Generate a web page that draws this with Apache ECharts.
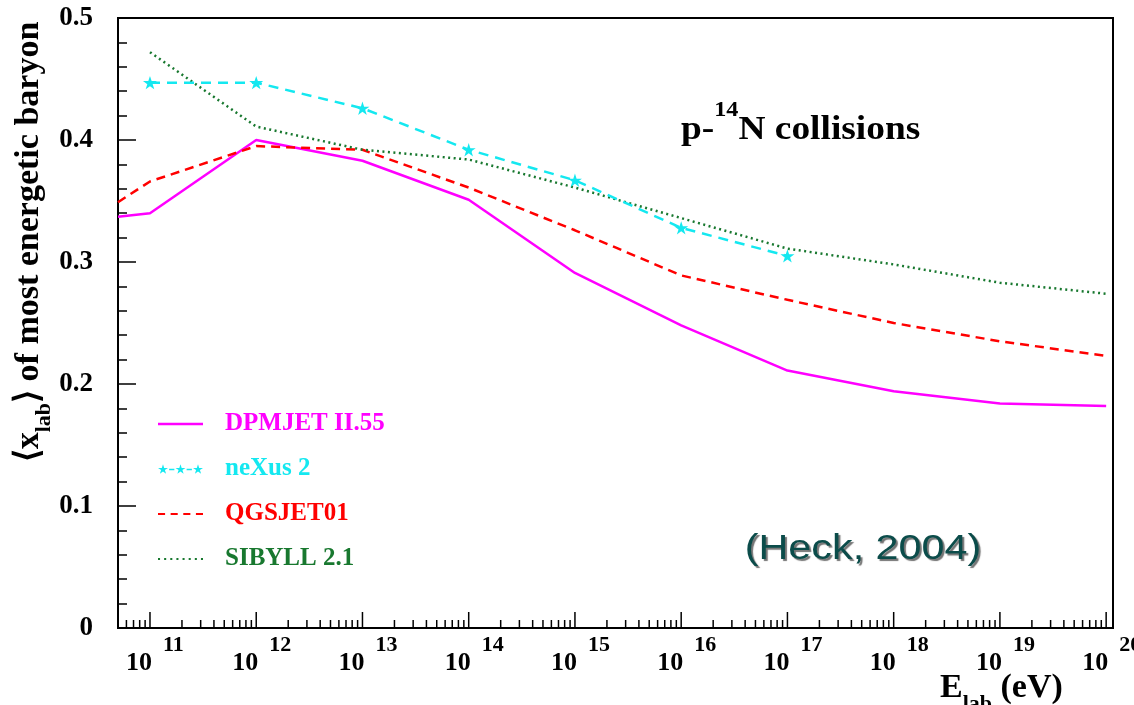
<!DOCTYPE html>
<html>
<head>
<meta charset="utf-8">
<title>Most energetic baryon in p-14N collisions</title>
<script src="https://cdn.jsdelivr.net/npm/echarts@6/dist/echarts.min.js"></script>
<style>
  html, body { margin: 0; padding: 0; background: #ffffff; }
  #chart { width: 1134px; height: 705px; }
</style>
</head>
<body>
<div id="chart"></div>
<script>
// Lab energy (eV) of each simulation point and mean x_lab of the leading baryon
const dpmjetE = [5e10, 1e11, 1e12, 1e13, 1e14, 1e15, 1e16, 1e17, 1e18, 1e19, 1e20];
const dpmjetXlab = [0.337, 0.340, 0.400, 0.383, 0.351, 0.291, 0.248, 0.211, 0.194, 0.184, 0.182];

const nexusE = [1e11, 1e12, 1e13, 1e14, 1e15, 1e16, 1e17];
const nexusXlab = [0.447, 0.447, 0.426, 0.392, 0.367, 0.328, 0.305];

const qgsjetE = [5e10, 1e11, 1e12, 1e13, 1e14, 1e15, 1e16, 1e17, 1e18, 1e19, 1e20];
const qgsjetXlab = [0.349, 0.366, 0.395, 0.392, 0.361, 0.326, 0.289, 0.269, 0.250, 0.235, 0.223];

const sibyllE = [1e11, 1e12, 1e13, 1e14, 1e15, 1e16, 1e17, 1e18, 1e19, 1e20];
const sibyllXlab = [0.472, 0.411, 0.392, 0.384, 0.361, 0.336, 0.311, 0.298, 0.283, 0.274];

// Axis ticks
const tickExponents = [11, 12, 13, 14, 15, 16, 17, 18, 19, 20];
const minorMultipliers = [2, 3, 4, 5, 6, 7, 8, 9];
const yTickLabels = ['0', '0.1', '0.2', '0.3', '0.4', '0.5'];

const X_MIN = 5e10;
const X_MAX = 1.16e20;

const SERIF = '"Liberation Serif", "Times New Roman", serif';
const SANS = '"Liberation Sans", Arial, sans-serif';
const MAGENTA = '#ff00ff';
const CYAN = '#14e8f0';
const RED = '#ff0000';
const GREEN = '#18782f';

// five-pointed star outline centred on (cx, cy)
function starPath(cx, cy, R) {
  const r = R * 0.382;
  let d = '';
  for (let i = 0; i < 10; i++) {
    const rad = (i % 2 === 0) ? R : r;
    const a = -Math.PI / 2 + i * Math.PI / 5;
    const px = (cx + rad * Math.cos(a)).toFixed(2);
    const py = (cy + rad * Math.sin(a)).toFixed(2);
    d += (i === 0 ? 'M' : 'L') + px + ' ' + py + ' ';
  }
  return d + 'Z ';
}
function rectPath(x, y, w, h) {
  return 'M' + x + ' ' + y + ' L' + (x + w) + ' ' + y + ' L' + (x + w) + ' ' + (y + h) + ' L' + x + ' ' + (y + h) + ' Z ';
}
const STAR_SYMBOL = 'path://' + starPath(50, 50, 50);

// legend keys drawn as filled paths: solid, star-dash, dashed, dotted
const KEY_SOLID = 'path://' + rectPath(0, 0, 45, 2.5);
const KEY_STARS = 'path://' + starPath(6, 6, 6) + starPath(26, 6, 6) + starPath(46, 6, 6) +
  rectPath(13, 5.1, 6, 1.8) + rectPath(33, 5.1, 6, 1.8);
let KEY_DASH = 'path://';
for (let i = 0; i < 4; i++) KEY_DASH += rectPath(i * 12.5, 0, 7, 2);
let KEY_DOT = 'path://';
for (let i = 0; i < 8; i++) KEY_DOT += rectPath(i * 6, 0, 2, 2);

function pairs(xs, ys) { return xs.map((x, i) => [x, ys[i]]); }

// tick marks for the logarithmic energy axis
const xTickData = [];
tickExponents.forEach(e => xTickData.push([Math.pow(10, e), 0, 1, e]));
for (let e = 10; e <= 20; e++) {
  minorMultipliers.forEach(m => {
    const E = m * Math.pow(10, e);
    if (E > X_MIN && E < X_MAX) xTickData.push([E, 0, 0, 0]);
  });
}

const chart = echarts.init(document.getElementById('chart'), null, { renderer: 'canvas' });

chart.setOption({
  animation: false,
  backgroundColor: '#ffffff',
  grid: {
    left: 118, right: 21, top: 18, bottom: 77,
    show: true, borderColor: '#000', borderWidth: 2, backgroundColor: 'transparent'
  },
  xAxis: {
    type: 'log', logBase: 10, min: X_MIN, max: X_MAX,
    axisLine: { show: true, lineStyle: { color: '#000', width: 2 } },
    axisTick: { show: false },
    axisLabel: { show: false },
    splitLine: { show: false },
    minorTick: { show: false }
  },
  yAxis: {
    type: 'value', min: 0, max: 0.5, interval: 0.1,
    axisLine: { show: true, lineStyle: { color: '#000', width: 2 } },
    axisTick: { show: true, inside: true, length: 18, lineStyle: { color: '#000', width: 1.5 } },
    minorTick: { show: true, splitNumber: 5, length: 9, lineStyle: { color: '#000', width: 1.5 } },
    splitLine: { show: false },
    minorSplitLine: { show: false },
    axisLabel: {
      color: '#000', fontFamily: SERIF, fontWeight: 'bold', fontSize: 27, margin: 25,
      formatter: v => yTickLabels[Math.round(v * 10)]
    }
  },
  legend: {
    orient: 'vertical', left: 158, top: 411, padding: 0,
    itemWidth: 45, itemHeight: 12, itemGap: 19,
    symbolKeepAspect: true,
    textStyle: { fontFamily: SERIF, fontWeight: 'bold', fontSize: 25, lineHeight: 26, padding: [0, 0, 0, 17] },
    data: [
      { name: 'DPMJET II.55', icon: KEY_SOLID, itemStyle: { color: MAGENTA }, textStyle: { color: MAGENTA } },
      { name: 'neXus 2', icon: KEY_STARS, itemStyle: { color: CYAN }, textStyle: { color: CYAN } },
      { name: 'QGSJET01', icon: KEY_DASH, itemStyle: { color: RED }, textStyle: { color: RED } },
      { name: 'SIBYLL 2.1', icon: KEY_DOT, itemStyle: { color: GREEN }, textStyle: { color: GREEN } }
    ]
  },
  series: [
    {
      name: 'DPMJET II.55', type: 'line', data: pairs(dpmjetE, dpmjetXlab),
      symbol: 'none', lineStyle: { color: MAGENTA, width: 2.5 }, itemStyle: { color: MAGENTA }, z: 3
    },
    {
      name: 'neXus 2', type: 'line', data: pairs(nexusE, nexusXlab),
      symbol: STAR_SYMBOL, symbolSize: 14, symbolKeepAspect: true,
      lineStyle: { color: CYAN, width: 2.5, type: [10, 7] }, itemStyle: { color: CYAN }, z: 4
    },
    {
      name: 'QGSJET01', type: 'line', data: pairs(qgsjetE, qgsjetXlab),
      symbol: 'none', lineStyle: { color: RED, width: 2.5, type: [9, 6] }, itemStyle: { color: RED }, z: 3
    },
    {
      name: 'SIBYLL 2.1', type: 'line', data: pairs(sibyllE, sibyllXlab),
      symbol: 'none', lineStyle: { color: GREEN, width: 2.5, type: [2, 3.5] }, itemStyle: { color: GREEN }, z: 3
    },
    {
      // log-axis ticks (decades long, 2..9 short) and 10^n labels
      name: 'energy ticks', type: 'custom', coordinateSystem: 'cartesian2d',
      data: xTickData, encode: { x: 0, y: 1 }, silent: true, clip: false, z: 6,
      renderItem: function (params, api) {
        const p = api.coord([api.value(0), 0]);
        const major = api.value(2) === 1;
        const len = major ? 16 : 8;
        const children = [{
          type: 'line',
          shape: { x1: p[0], y1: p[1], x2: p[0], y2: p[1] - len },
          style: { stroke: '#000', lineWidth: 1.5 }
        }];
        if (major) {
          children.push({
            type: 'text', x: p[0] + 2, y: p[1] + 35,
            style: {
              text: '10', fill: '#000', fontFamily: SERIF, fontWeight: 'bold', fontSize: 26,
              textAlign: 'right', textVerticalAlign: 'middle', align: 'right', verticalAlign: 'middle'
            }
          });
          children.push({
            type: 'text', x: p[0] + 13, y: p[1] + 17,
            style: {
              text: String(api.value(3)), fill: '#000', fontFamily: SERIF, fontWeight: 'bold', fontSize: 22,
              textAlign: 'left', textVerticalAlign: 'middle', align: 'left', verticalAlign: 'middle'
            }
          });
        }
        return { type: 'group', children: children };
      }
    }
  ],
  graphic: [
    {
      // y-axis title
      type: 'text', x: 38, y: 242, rotation: Math.PI / 2, silent: true,
      style: {
        text: '{m|⟨x}{s|lab}{m|⟩ of most energetic baryon}',
        align: 'center', verticalAlign: 'middle', textAlign: 'center', textVerticalAlign: 'middle',
        rich: {
          m: { fontFamily: SERIF, fontWeight: 'bold', fontSize: 34, lineHeight: 34, fill: '#000', padding: [0, 0, 9, 0], verticalAlign: 'bottom' },
          s: { fontFamily: SERIF, fontWeight: 'bold', fontSize: 22, lineHeight: 22, fill: '#000', verticalAlign: 'bottom' }
        }
      }
    },
    {
      // x-axis title
      type: 'text', x: 940, y: 715, silent: true,
      style: {
        text: '{m|E}{s|lab}{m| (eV)}',
        align: 'left', verticalAlign: 'bottom', textAlign: 'left', textVerticalAlign: 'bottom',
        rich: {
          m: { fontFamily: SERIF, fontWeight: 'bold', fontSize: 34, lineHeight: 34, fill: '#000', padding: [0, 0, 10, 0], verticalAlign: 'bottom' },
          s: { fontFamily: SERIF, fontWeight: 'bold', fontSize: 22, lineHeight: 22, fill: '#000', verticalAlign: 'bottom' }
        }
      }
    },
    {
      // reaction label
      type: 'text', x: 681, y: 147, scaleX: 1.1, silent: true,
      style: {
        text: '{a|p-}{s|14}{a|N collisions}',
        align: 'left', verticalAlign: 'bottom', textAlign: 'left', textVerticalAlign: 'bottom',
        rich: {
          a: { fontFamily: SERIF, fontWeight: 'bold', fontSize: 34, lineHeight: 34, fill: '#000', verticalAlign: 'bottom' },
          s: { fontFamily: SERIF, fontWeight: 'bold', fontSize: 22, lineHeight: 22, fill: '#000', padding: [0, 0, 26, 0], verticalAlign: 'bottom' }
        }
      }
    },
    {
      // reference
      type: 'text', x: 863, y: 549, scaleX: 1.18, silent: true,
      style: {
        text: '(Heck, 2004)', fontFamily: SANS, fontSize: 35, fill: '#0b4c4a',
        align: 'center', verticalAlign: 'middle', textAlign: 'center', textVerticalAlign: 'middle',
        textShadowColor: 'rgba(0,0,0,0.55)', textShadowOffsetX: 2, textShadowOffsetY: 2, textShadowBlur: 1
      }
    }
  ]
});
</script>
</body>
</html>
